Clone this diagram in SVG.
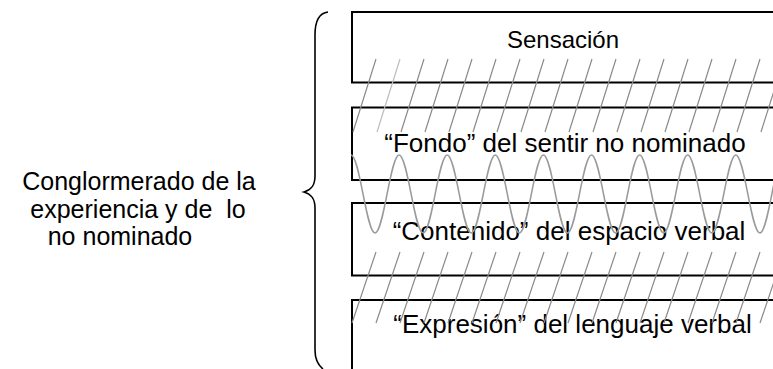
<svg xmlns="http://www.w3.org/2000/svg" width="773" height="369" viewBox="0 0 773 369">
<style>
  .box { fill: none; stroke: #000; stroke-width: 2; }
  .t { font-family: "Liberation Sans", Arial, sans-serif; fill: #000; white-space: pre; }
  .hatch { fill: none; stroke: #8a8a8a; stroke-width: 1.2; }
  .wave { fill: none; stroke: #9a9a9a; stroke-width: 1.5; }
  .brace { fill: none; stroke: #000; stroke-width: 1.6; }
</style>
<rect width="773" height="369" fill="#fff"/>

<g id="label-left">
  <text class="t" font-size="25" text-anchor="middle" x="139" y="190">Conglormerado de la</text>
  <text class="t" font-size="25" text-anchor="middle" x="138" y="217.5">experiencia y de  lo</text>
  <text class="t" font-size="25" text-anchor="middle" x="120" y="245">no nominado</text>
</g>

<g id="brace">
  <path class="brace" d="M328,12 C319,13 315,20 315,35 L315,176 C315,186 311,190 304,192 C311,194 315,198 315,208 L315,350 C315,360 318,365 323,369"/>
</g>

<g id="node-sensacion">
  <rect class="box" x="352" y="12" width="460" height="70.5"/>
  <text class="t" font-size="24" text-anchor="middle" x="563" y="48">Sensación</text>
</g>
<g id="node-fondo">
  <rect class="box" x="352" y="107.5" width="460" height="72.5"/>
  <text class="t" font-size="26" text-anchor="middle" x="565" y="152">“Fondo” del sentir no nominado</text>
</g>
<g id="node-contenido">
  <rect class="box" x="352" y="203" width="460" height="72.5"/>
  <text class="t" font-size="26" text-anchor="middle" x="569" y="240">“Contenido” del espacio verbal</text>
</g>
<g id="node-expresion">
  <rect class="box" x="352" y="300" width="460" height="90"/>
  <text class="t" font-size="26" text-anchor="middle" x="572.5" y="333">“Expresión” del lenguaje verbal</text>
</g>

<g id="connectors">
  <path class="hatch" d="M376,59 l-23,73 M424,59 l-23,73 M448,59 l-23,73 M472,59 l-23,73 M496,59 l-23,73 M520,59 l-23,73 M544,59 l-23,73 M568,59 l-23,73 M592,59 l-23,73 M616,59 l-23,73 M640,59 l-23,73 M664,59 l-23,73 M688,59 l-23,73 M712,59 l-23,73 M736,59 l-23,73 M760,59 l-23,73 M784,59 l-23,73"/>
  <path class="hatch" stroke="#bdbdbd" style="stroke:#bdbdbd" d="M400,59 l-23,73"/>
  <path class="hatch" d="M376,252 l-24,71 M400,252 l-24,71 M424,252 l-24,71 M448,252 l-24,71 M472,252 l-24,71 M496,252 l-24,71 M520,252 l-24,71 M544,252 l-24,71 M568,252 l-24,71 M592,252 l-24,71 M616,252 l-24,71 M640,252 l-24,71 M664,252 l-24,71 M688,252 l-24,71 M712,252 l-24,71 M736,252 l-24,71 M760,252 l-24,71 M784,252 l-24,71"/>
  <path class="wave" d="M351,155 c8.74,0 15.31,78 24.05,78 c8.74,0 15.31,-78 24.05,-78 c8.74,0 15.31,78 24.05,78 c8.74,0 15.31,-78 24.05,-78 c8.74,0 15.31,78 24.05,78 c8.74,0 15.31,-78 24.05,-78 c8.74,0 15.31,78 24.05,78 c8.74,0 15.31,-78 24.05,-78 c8.74,0 15.31,78 24.05,78 c8.74,0 15.31,-78 24.05,-78 c8.74,0 15.31,78 24.05,78 c8.74,0 15.31,-78 24.05,-78 c8.74,0 15.31,78 24.05,78 c8.74,0 15.31,-78 24.05,-78 c8.74,0 15.31,78 24.05,78 c8.74,0 15.31,-78 24.05,-78 c8.74,0 15.31,78 24.05,78 c8.74,0 15.31,-78 24.05,-78 c8.74,0 15.31,78 24.05,78 c8.74,0 15.31,-78 24.05,-78"/>
</g>
</svg>
